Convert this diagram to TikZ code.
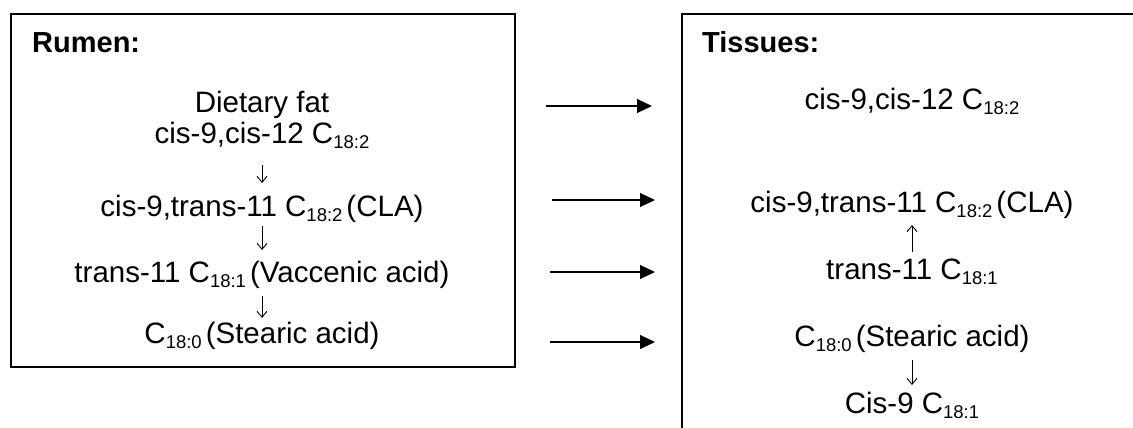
\documentclass[tikz,border=0pt]{standalone}
\usepackage{fontspec}
\setmainfont{Liberation Sans}
\usetikzlibrary{arrows.meta}

% subscript used in the fatty-acid names
\newcommand{\sbs}[1]{\raisebox{-5pt}{\fontsize{18.5}{18.5}\selectfont #1}}
% narrow gap after a subscript
\newcommand{\gap}{\hspace{4pt}}

\tikzset{
  panel/.style={line width=1.6pt},
  heading/.style={anchor=base west, inner sep=0pt, font=\fontsize{29}{32}\selectfont\bfseries},
  chem/.style={anchor=base, inner sep=0pt, font=\fontsize{29.5}{33}\selectfont},
  transfer/.style={line width=1.2pt, -{Triangle[length=15pt,width=14pt]}},
  flow/.style={line width=0.9pt, -{Straight Barb[length=6pt,width=10pt,line width=0.9pt]}}
}

\begin{document}
\begin{tikzpicture}[x=1pt,y=-1pt]
\useasboundingbox (0,0) rectangle (1133,428);
\clip (0,0) rectangle (1133,428);

% the two compartments
\draw[panel] (11,14) rectangle (515,367);
\draw[panel] (682,14) rectangle (1150,450);

\node[heading] (rumen) at (32,53) {Rumen:};
\node[heading] (tissues) at (702,53) {Tissues:};

% rumen biohydrogenation sequence
\node[chem] (diet) at (262,112) {Dietary fat};
\node[chem] (lino) at (262,143) {cis-9,cis-12 C\sbs{18:2}};
\node[chem] (cla) at (262,216) {cis-9,trans-11 C\sbs{18:2}\gap(CLA)};
\node[chem] (vac) at (262,282) {trans-11 C\sbs{18:1}\gap(Vaccenic acid)};
\node[chem] (ste) at (262,343) {C\sbs{18:0}\gap(Stearic acid)};

\draw[flow] ([yshift=-22pt]lino.base) -- ([yshift=33pt]cla.base);
\draw[flow] ([yshift=-10pt]cla.base) -- ([yshift=32pt]vac.base);
\draw[flow] ([yshift=-14pt]vac.base) -- ([yshift=25pt]ste.base);

% tissue pools
\node[chem] (tlino) at (912,110) {cis-9,cis-12 C\sbs{18:2}};
\node[chem] (tcla) at (912,212) {cis-9,trans-11 C\sbs{18:2}\gap(CLA)};
\node[chem] (tvac) at (912,279) {trans-11 C\sbs{18:1}};
\node[chem] (tste) at (912,346) {C\sbs{18:0}\gap(Stearic acid)};
\node[chem] (tole) at (912,413) {Cis-9 C\sbs{18:1}};

\draw[flow] ([yshift=27pt]tvac.base) -- ([yshift=-13pt]tcla.base);
\draw[flow] ([yshift=-14pt]tste.base) -- ([yshift=28pt]tole.base);

% transfer from rumen to tissues
\coordinate (a1s) at (546,106); \coordinate (a1e) at (652,106);
\coordinate (a2s) at (552,200); \coordinate (a2e) at (655,200);
\coordinate (a3s) at (550,272); \coordinate (a3e) at (655,272);
\coordinate (a4s) at (550,342); \coordinate (a4e) at (655,342);
\draw[transfer] (a1s) -- (a1e);
\draw[transfer] (a2s) -- (a2e);
\draw[transfer] (a3s) -- (a3e);
\draw[transfer] (a4s) -- (a4e);
\end{tikzpicture}
\end{document}
